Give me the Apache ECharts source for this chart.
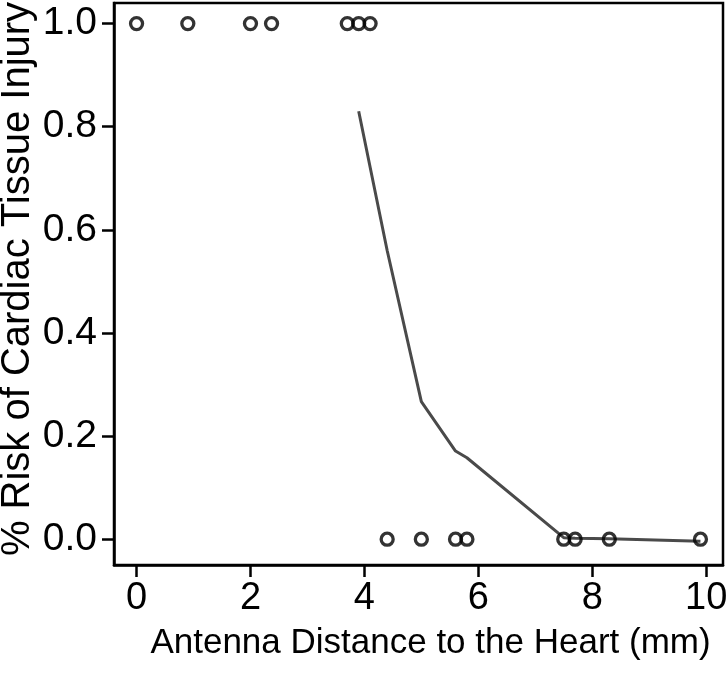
<!DOCTYPE html>
<html>
<head>
<meta charset="utf-8">
<script src="https://cdn.jsdelivr.net/npm/echarts@6/dist/echarts.min.js"></script>
<style>
html,body{margin:0;padding:0;background:#fff;}
#chart{width:727px;height:689px;}
</style>
</head>
<body>
<div id="chart"></div>
<script>
// Observed outcomes (injury = 1, no injury = 0)
const injuredX = [0, 0.9, 2.0, 2.37, 3.7, 3.9, 4.1];
const injuredY = [1, 1, 1, 1, 1, 1, 1];
const safeX = [4.4, 5.0, 5.6, 5.8, 7.5, 7.7, 8.3, 9.9];
const safeY = [0, 0, 0, 0, 0, 0, 0, 0];
// Fitted risk curve
const fitX = [3.9, 4.4, 5.0, 5.6, 5.8, 7.5, 7.7, 8.3, 9.9];
const fitY = [0.83, 0.56, 0.267, 0.171, 0.158, 0.003, 0.002, 0.001, -0.004];
// Tick labels
const xTicks = [0, 2, 4, 6, 8, 10];
const yTicks = [0, 0.2, 0.4, 0.6, 0.8, 1.0];

const zip = (a, b) => a.map((v, i) => [v, b[i]]);
const font = '"Liberation Sans", Arial, Helvetica, sans-serif';

const chart = echarts.init(document.getElementById('chart'), null, {renderer: 'canvas'});
chart.setOption({
  animation: false,
  backgroundColor: '#fff',
  grid: {left: 114, right: 4, top: 3, bottom: 124, outerBoundsMode: 'none', containLabel: false,
    show: true, borderColor: '#000', borderWidth: 2.5, backgroundColor: 'transparent'},
  xAxis: {
    type: 'value', min: -0.396, max: 10.296,
    name: 'Antenna Distance to the Heart (mm)', nameLocation: 'middle', nameGap: 61, nameMoveOverlap: false,
    nameTextStyle: {fontFamily: font, fontSize: 35, color: '#000', padding: [0, 0, 0, 24]},
    axisLine: {show: true, onZero: false, lineStyle: {color: '#000', width: 2.5}},
    axisTick: {show: true, length: 12, inside: false, customValues: xTicks, lineStyle: {color: '#000', width: 2.5}},
    axisLabel: {customValues: xTicks, fontFamily: font, fontSize: 38, color: '#000', margin: 15,
      formatter: v => String(v)},
    splitLine: {show: false}
  },
  yAxis: {
    type: 'value', min: -0.05, max: 1.04,
    name: '% Risk of Cardiac Tissue Injury', nameLocation: 'middle', nameGap: 76, nameRotate: 90, nameMoveOverlap: false,
    nameTextStyle: {fontFamily: font, fontSize: 40, color: '#000', padding: [0, 0, 0, 10]},
    axisLine: {show: true, onZero: false, lineStyle: {color: '#000', width: 2.5}},
    axisTick: {show: true, length: 12, inside: false, customValues: yTicks, lineStyle: {color: '#000', width: 2.5}},
    axisLabel: {customValues: yTicks, fontFamily: font, fontSize: 39, color: '#000', margin: 17,
      formatter: v => v.toFixed(1)},
    splitLine: {show: false}
  },
  series: [
    {type: 'line', data: zip(fitX, fitY), symbol: 'none', z: 2,
      lineStyle: {color: '#4a4a4a', width: 3}},
    {type: 'scatter', data: zip(injuredX, injuredY), symbol: 'circle', symbolSize: 12, z: 3,
      itemStyle: {color: 'rgba(0,0,0,0)', borderColor: '#000', borderWidth: 3.3}},
    {type: 'scatter', data: zip(safeX, safeY), symbol: 'circle', symbolSize: 12, z: 3,
      itemStyle: {color: 'rgba(0,0,0,0)', borderColor: '#000', borderWidth: 3.3}}
  ]
});
</script>
</body>
</html>
